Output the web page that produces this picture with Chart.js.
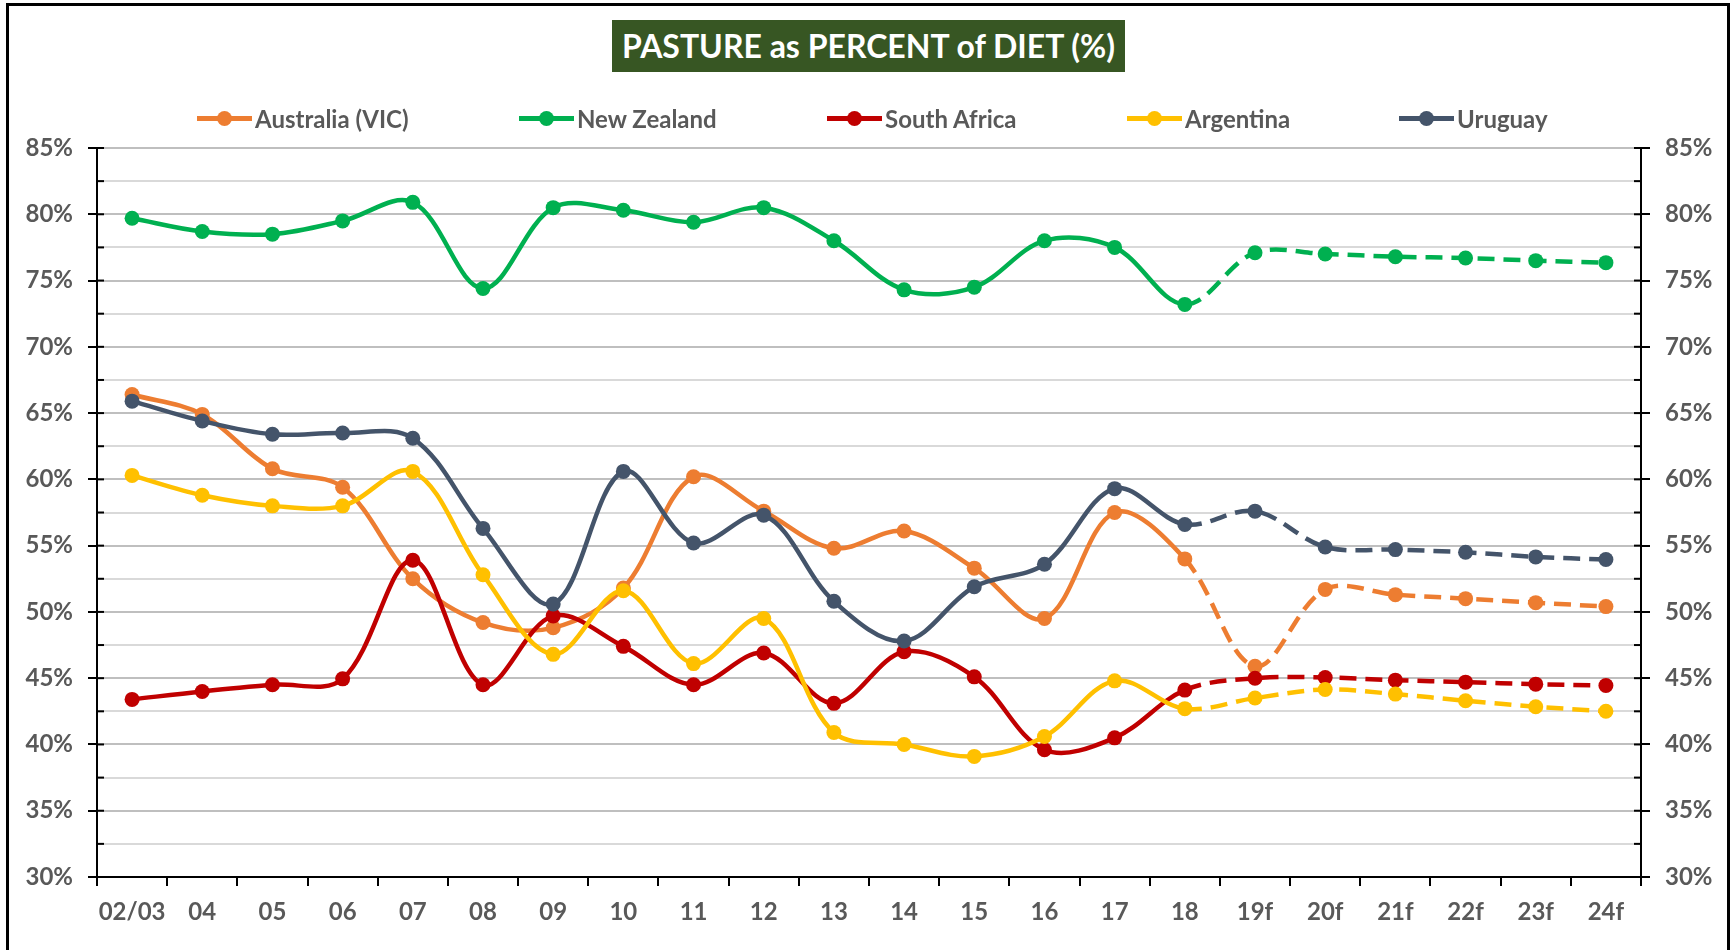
<!DOCTYPE html>
<html>
<head>
<meta charset="utf-8">
<script src="https://cdn.jsdelivr.net/npm/chart.js@4.4.1/dist/chart.umd.min.js"></script>
<style>
  body { margin: 0; background: #fff; overflow: hidden; }
  #wrap { position: relative; width: 1733px; height: 950px; }
  #frame {
    position: absolute; left: 6px; top: 3px; width: 1724px; height: 970px;
    border: 3px solid #000; box-sizing: border-box; pointer-events: none;
  }
  #titulo {
    position: absolute; left: 612px; top: 20px; width: 513px; height: 52px;
    background: #375623; color: #fff; font: bold 32px Lato, sans-serif;
    line-height: 52px; text-align: center; white-space: nowrap;
  }
  #leyenda { position: absolute; left: 0; top: 104px; width: 1733px; height: 28px; margin: 0; padding: 0; list-style: none; }
  #leyenda li {
    position: absolute; top: 0; height: 28px; display: flex; align-items: center;
    font: bold 24px Lato, sans-serif; color: #595959; white-space: nowrap;
  }
  .marca { position: relative; width: 55px; height: 15px; margin-right: 3px; }
  .marca .linea { position: absolute; left: 0; right: 0; top: 5px; height: 5px; }
  .marca .punto { position: absolute; left: 20px; top: 0; width: 15px; height: 15px; border-radius: 50%; }
</style>
</head>
<body>
<div id="wrap">
  <canvas id="grafico" width="1733" height="950"></canvas>
  <div id="titulo">PASTURE as PERCENT of DIET (%)</div>
  <ul id="leyenda"></ul>
  <div id="frame"></div>
</div>
<script>
// datos
const years = ["02/03", "04", "05", "06", "07", "08", "09", "10", "11", "12", "13", "14", "15", "16", "17", "18", "19f", "20f", "21f", "22f", "23f", "24f"];
const australia = [66.4, 64.9, 60.8, 59.4, 52.5, 49.2, 48.8, 51.8, 60.2, 57.6, 54.8, 56.1, 53.3, 49.5, 57.5, 54.0, 45.9, 51.7, 51.3, 51.0, 50.7, 50.4];
const newZealand = [79.7, 78.7, 78.5, 79.5, 80.9, 74.4, 80.5, 80.3, 79.4, 80.5, 78.0, 74.3, 74.5, 78.0, 77.5, 73.2, 77.1, 77.0, 76.8, 76.7, 76.5, 76.35];
const southAfrica = [43.4, 44.0, 44.5, 44.95, 53.9, 44.5, 49.7, 47.4, 44.5, 46.9, 43.1, 47.0, 45.1, 39.6, 40.5, 44.1, 45.0, 45.05, 44.85, 44.7, 44.55, 44.45];
const argentina = [60.3, 58.8, 58.0, 58.0, 60.6, 52.8, 46.8, 51.6, 46.1, 49.5, 40.9, 40.0, 39.1, 40.6, 44.8, 42.7, 43.5, 44.15, 43.8, 43.3, 42.85, 42.5];
const uruguay = [65.9, 64.4, 63.4, 63.5, 63.1, 56.3, 50.6, 60.6, 55.2, 57.3, 50.8, 47.8, 51.9, 53.6, 59.3, 56.6, 57.6, 54.9, 54.7, 54.5, 54.15, 53.95];

const yMin = 30;
const yMax = 85;
const firstForecast = 15; // desde "18" la linea es punteada

// posicion x de cada item de la leyenda (px)
const legendLeft = [197, 519, 827, 1127, 1399];

const gris = "#595959";
const fuente = { family: "Lato, sans-serif", size: 24, weight: "bold" };

function serie(label, data, color, order) {
  return {
    label: label,
    data: data,
    borderColor: color,
    backgroundColor: color,
    pointBackgroundColor: color,
    pointBorderWidth: 0,
    pointRadius: 7.5,
    borderWidth: 4.5,
    tension: 0.35,
    order: order,
    segment: {
      borderDash: (ctx) => (ctx.p0DataIndex >= firstForecast ? [17, 9] : undefined)
    }
  };
}

const esMayor = (v) => v % 5 === 0;

// ticks cortos hacia adentro como en excel
const ticksInternos = {
  id: "ticksInternos",
  beforeDatasetsDraw(chart) {
    const ctx = chart.ctx;
    ctx.save();
    ctx.strokeStyle = "#000";
    ctx.lineWidth = 2;
    ["y", "y2"].forEach((id) => {
      const s = chart.scales[id];
      const x = id === "y" ? chart.chartArea.left : chart.chartArea.right;
      const dir = id === "y" ? 1 : -1;
      s.ticks.forEach((t) => {
        const py = s.getPixelForValue(t.value);
        ctx.beginPath();
        ctx.moveTo(x, py);
        ctx.lineTo(x + dir * 7, py);
        ctx.stroke();
      });
    });
    ctx.restore();
  }
};

// leyenda en html
const leyendaHtml = {
  id: "leyendaHtml",
  afterUpdate(chart) {
    const $ul = document.querySelector("#leyenda");
    $ul.innerHTML = "";
    const items = chart.options.plugins.legend.labels.generateLabels(chart);
    items.sort((a, b) => a.datasetIndex - b.datasetIndex);
    items.forEach((item, i) => {
      const li = document.createElement("li");
      li.style.left = legendLeft[i] + "px";
      const marca = document.createElement("span");
      marca.className = "marca";
      const linea = document.createElement("span");
      linea.className = "linea";
      linea.style.background = item.strokeStyle;
      const punto = document.createElement("span");
      punto.className = "punto";
      punto.style.background = item.fillStyle;
      marca.appendChild(linea);
      marca.appendChild(punto);
      const texto = document.createElement("span");
      texto.textContent = item.text;
      li.appendChild(marca);
      li.appendChild(texto);
      $ul.appendChild(li);
    });
  }
};

const ejeY = (position, width) => ({
  type: "linear",
  position: position,
  min: yMin,
  max: yMax,
  afterFit: (scale) => { scale.width = width; },
  border: { display: true, color: "#000", width: 2 },
  grid: {
    drawOnChartArea: position === "left",
    color: (ctx) => (ctx.tick && esMayor(ctx.tick.value) ? "#bfbfbf" : "#d9d9d9"),
    lineWidth: 2,
    tickLength: 9,
    tickWidth: 2,
    tickColor: (ctx) => (ctx.tick && esMayor(ctx.tick.value) ? "#000" : "rgba(0,0,0,0)")
  },
  ticks: {
    stepSize: 2.5,
    padding: 15,
    color: gris,
    font: fuente,
    callback: (v) => (esMayor(v) ? v + "%" : "")
  }
});

const grafico = new Chart(document.getElementById("grafico"), {
  type: "line",
  data: {
    labels: years,
    datasets: [
      serie("Australia (VIC)", australia, "#ed7d31", 5),
      serie("New Zealand", newZealand, "#00b050", 4),
      serie("South Africa", southAfrica, "#c00000", 3),
      serie("Argentina", argentina, "#ffc000", 2),
      serie("Uruguay", uruguay, "#44546a", 1)
    ]
  },
  options: {
    responsive: false,
    animation: false,
    events: [],
    layout: { padding: { top: 148, left: 0, right: 0, bottom: 0 } },
    plugins: {
      legend: { display: false },
      tooltip: { enabled: false }
    },
    scales: {
      x: {
        type: "category",
        offset: true,
        afterFit: (scale) => { scale.height = 73; },
        border: { display: true, color: "#000", width: 2 },
        grid: {
          offset: true,
          drawOnChartArea: false,
          color: "#000",
          lineWidth: 2,
          tickLength: 9
        },
        ticks: {
          autoSkip: false,
          maxRotation: 0,
          padding: 12,
          color: gris,
          font: fuente
        }
      },
      y: ejeY("left", 97),
      y2: ejeY("right", 92)
    }
  },
  plugins: [ticksInternos, leyendaHtml]
});
</script>
</body>
</html>
